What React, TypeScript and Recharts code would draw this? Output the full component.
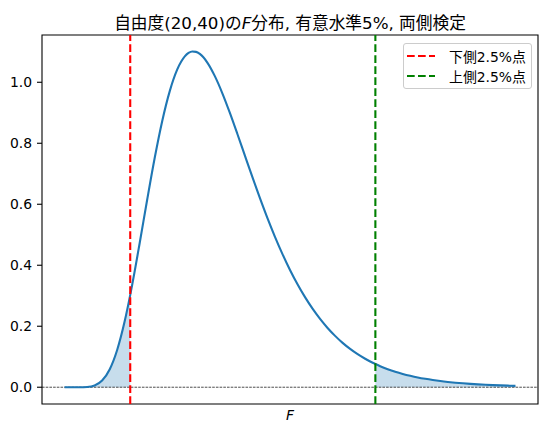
import React from 'react';
import { ComposedChart, Line, Area, XAxis, YAxis, ReferenceLine, ReferenceArea } from 'recharts';

// F(20,40) density
const xValues = [
  0, 0.05, 0.1, 0.15, 0.2, 0.25, 0.3, 0.35, 0.4, 0.437, 0.45, 0.5, 0.55, 0.6, 0.65, 0.7, 0.75, 0.8, 0.825, 0.85, 0.875, 0.9, 0.95,
  1.0, 1.05, 1.1, 1.15, 1.2, 1.25, 1.3, 1.35, 1.4, 1.45, 1.5, 1.55, 1.6, 1.65, 1.7, 1.75, 1.8, 1.85, 1.9, 1.95,
  2.0, 2.05, 2.068, 2.1, 2.15, 2.2, 2.25, 2.3, 2.35, 2.4, 2.45, 2.5, 2.55, 2.6, 2.65, 2.7, 2.75, 2.8, 2.85, 2.9, 2.95, 3.0,
];
const density = [
  0, 0, 0.00005, 0.0009, 0.0057, 0.0218, 0.0581, 0.1221, 0.216, 0.3027, 0.3359, 0.473, 0.6157, 0.7525, 0.8733, 0.9711, 1.0421, 1.0848, 1.0961, 1.1008, 1.0997, 1.0929, 1.0646,
  1.0201, 0.9639, 0.8995, 0.8304, 0.7594, 0.6887, 0.62, 0.5545, 0.4933, 0.4366, 0.3846, 0.3376, 0.2953, 0.2575, 0.224, 0.1944, 0.1684, 0.1455, 0.1256, 0.1083,
  0.0933, 0.0802, 0.076, 0.069, 0.0593, 0.0509, 0.0437, 0.0375, 0.0321, 0.0276, 0.0237, 0.0203, 0.0174, 0.0149, 0.0128, 0.011, 0.00945, 0.00812, 0.00698, 0.006, 0.00516, 0.00444,
];
const lowerPoint = 0.437;
const upperPoint = 2.068;
const yTicks = [0, 0.2, 0.4, 0.6, 0.8, 1.0];
const legendItems = [
  { label: '下側2.5%点', color: 'red' },
  { label: '上側2.5%点', color: 'green' },
];

const data = xValues.map((x, i) => ({
  x,
  y: density[i],
  lo: x <= lowerPoint ? density[i] : null,
  hi: x >= upperPoint ? density[i] : null,
}));

const font = '"DejaVu Sans", "Noto Sans CJK JP", sans-serif';

export default function App() {
  return (
    <div style={{ position: 'absolute', left: 0, top: 0, width: 547, height: 434, background: '#fff', fontFamily: font }}>
      <ComposedChart width={547} height={434} data={data} margin={{ top: 35, right: 9, bottom: 0, left: 0 }}>
        <XAxis dataKey="x" type="number" domain={[-0.15, 3.15]} tick={false} tickLine={false} axisLine={false} height={30} />
        <YAxis
          type="number"
          domain={[-0.055, 1.155]}
          ticks={yTicks}
          tickFormatter={(v: number) => v.toFixed(1)}
          width={42}
          axisLine={false}
          tickSize={5}
          tickMargin={5}
          tickLine={{ stroke: '#000', strokeWidth: 1.1 }}
          tick={{ fill: '#000', fontSize: 13.9, fontFamily: font }}
        />
        <Area dataKey="lo" type="monotone" fill="#1f77b4" fillOpacity={0.25} stroke="none" baseValue={0} isAnimationActive={false} />
        <Area dataKey="hi" type="monotone" fill="#1f77b4" fillOpacity={0.25} stroke="none" baseValue={0} isAnimationActive={false} />
        <ReferenceLine y={0} stroke="#000" strokeWidth={0.7} strokeDasharray="2.6 1.1" />
        <Line dataKey="y" type="monotone" stroke="#1f77b4" strokeWidth={2.1} dot={false} isAnimationActive={false} />
        <ReferenceLine x={lowerPoint} stroke="red" strokeWidth={2.1} strokeDasharray="7.7 3.3" />
        <ReferenceLine x={upperPoint} stroke="green" strokeWidth={2.1} strokeDasharray="7.7 3.3" />
        <ReferenceArea x1={-0.15} x2={3.15} y1={-0.055} y2={1.155} fill="none" stroke="#000" strokeWidth={1.1} fillOpacity={0} />
      </ComposedChart>
      <div style={{ position: 'absolute', top: 10, left: 42, width: 496, textAlign: 'center', fontSize: 16.7, whiteSpace: 'nowrap' }}>
        自由度(20,40)の<i>F</i>分布, 有意水準5%, 両側検定
      </div>
      <div style={{ position: 'absolute', top: 407, left: 42, width: 496, textAlign: 'center', fontSize: 13.9 }}>
        <i>F</i>
      </div>
      <div
        style={{
          position: 'absolute', left: 403, top: 43, width: 127, height: 44, border: '1px solid #ccc', borderRadius: 3,
          background: 'rgba(255,255,255,0.8)', fontSize: 13.9,
        }}
      >
        {legendItems.map((item, i) => (
          <div key={item.label} style={{ position: 'absolute', left: 3, top: 3 + i * 19.5, height: 18, display: 'flex', alignItems: 'center' }}>
            <svg width={28} height={4} style={{ marginRight: 14 }}>
              <line x1={0} y1={2} x2={28} y2={2} stroke={item.color} strokeWidth={2.1} strokeDasharray="7.7 3.3" />
            </svg>
            <span>{item.label}</span>
          </div>
        ))}
      </div>
    </div>
  );
}
